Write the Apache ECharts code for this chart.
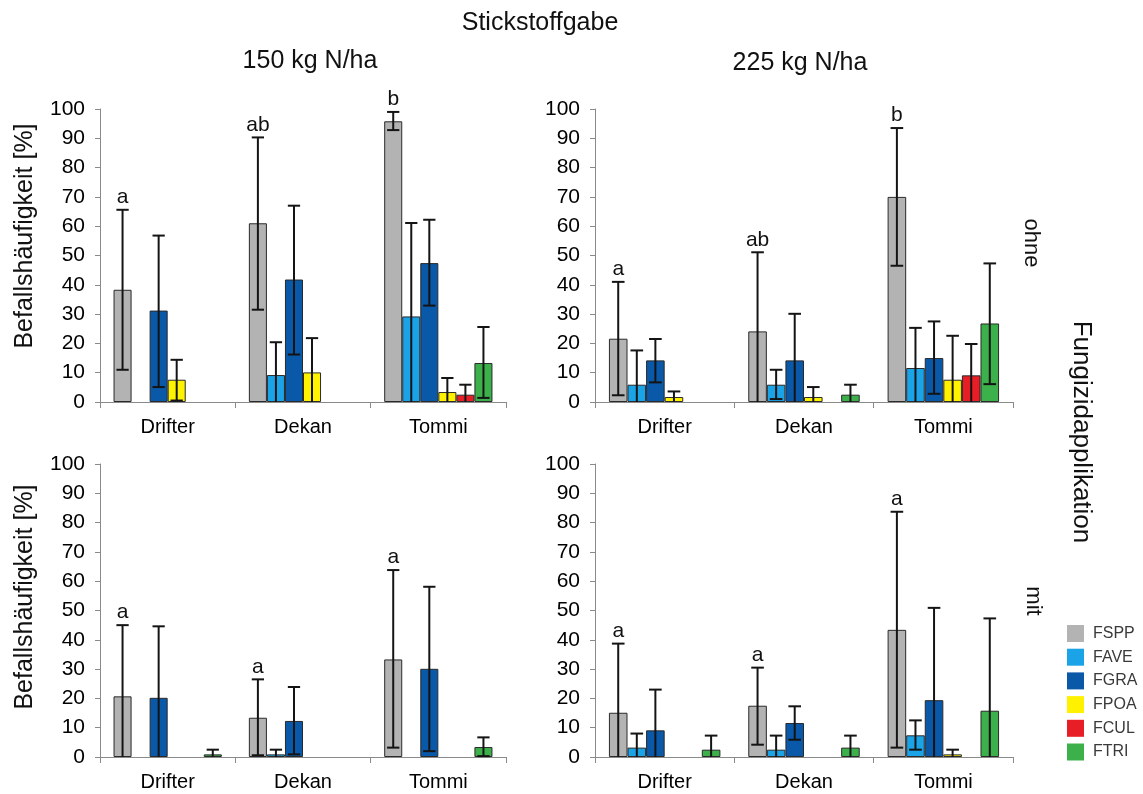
<!DOCTYPE html>
<html>
<head>
<meta charset="utf-8">
<script src="https://cdn.jsdelivr.net/npm/echarts@6/dist/echarts.min.js"></script>
<style>
html,body{margin:0;padding:0;background:#fff;}
#chart{width:1143px;height:794px;}
</style>
</head>
<body>
<div id="chart"></div>
<script>
// ---------- DATA ----------
const categories = ['Drifter', 'Dekan', 'Tommi'];
const fungi = ['FSPP', 'FAVE', 'FGRA', 'FPOA', 'FCUL', 'FTRI'];
const yTickMin = 0, yTickMax = 100, yTickStep = 10;

// 150 kg N/ha, ohne Fungizid  (rows = fungi, cols = categories)
const mean_150_ohne = [[38.3, 61.0, 95.8], [0, 9.2, 29.2], [31.2, 41.8, 47.4], [7.6, 10.1, 3.4], [0, 0, 2.5], [0, 0, 13.3]];
const low_150_ohne  = [[11.0, 31.5, 92.8], [0, 0, 0], [5.1, 16.2, 32.9], [0.5, 0, 0], [0, 0, 0], [0, 0, 1.4]];
const high_150_ohne = [[65.6, 90.3, 99.0], [0, 20.4, 61.1], [56.8, 67.0, 62.2], [14.4, 21.8, 8.2], [0, 0, 5.9], [0, 0, 25.6]];
const letters_150_ohne = ['a', 'ab', 'b'];

// 225 kg N/ha, ohne Fungizid
const mean_225_ohne = [[21.6, 24.1, 70.0], [5.9, 5.9, 11.6], [14.2, 14.2, 15.0], [1.7, 1.7, 7.6], [0, 0, 9.1], [0, 2.5, 26.8]];
const low_225_ohne  = [[2.3, 0, 46.5], [0, 1.0, 0], [6.7, 0, 2.8], [0, 0, 0], [0, 0, 0], [0, 0, 6.1]];
const high_225_ohne = [[41.0, 51.1, 93.5], [17.6, 11.0, 25.3], [21.5, 30.1, 27.5], [3.6, 5.1, 22.6], [0, 0, 19.8], [0, 5.9, 47.3]];
const letters_225_ohne = ['a', 'ab', 'b'];

// 150 kg N/ha, mit Fungizid
const mean_150_mit = [[20.7, 13.4, 33.3], [0, 0.9, 0], [20.2, 12.3, 30.1], [0, 0, 0], [0, 0, 0], [0.9, 0, 3.4]];
const low_150_mit  = [[0, 0.6, 3.2], [0, 0, 0], [0, 0.9, 2.0], [0, 0, 0], [0, 0, 0], [0, 0, 0.3]];
const high_150_mit = [[45.0, 26.5, 63.8], [0, 2.5, 0], [44.6, 23.9, 58.1], [0, 0, 0], [0, 0, 0], [2.5, 0, 6.7]];
const letters_150_mit = ['a', 'a', 'a'];

// 225 kg N/ha, mit Fungizid
const mean_225_mit = [[15.1, 17.5, 43.4], [3.2, 2.5, 7.4], [9.1, 11.6, 19.4], [0, 0, 0.9], [0, 0, 0], [2.5, 3.2, 15.8]];
const low_225_mit  = [[0, 4.2, 3.2], [0, 0, 2.5], [0, 5.9, 0], [0, 0, 0], [0, 0, 0], [0, 0, 0]];
const high_225_mit = [[38.7, 30.5, 83.7], [8.0, 7.3, 12.5], [23.0, 17.3, 50.9], [0, 0, 2.5], [0, 0, 0], [7.3, 7.3, 47.3]];
const letters_225_mit = ['a', 'a', 'a'];

// ---------- STYLE / LAYOUT ----------
const colors = ['#b3b3b3', '#1ba3e8', '#0a58a8', '#fff200', '#e81e26', '#3cb04a'];
const FONT = "'Liberation Sans', Arial, sans-serif";
const GAP = 0.20;
const panels = [
  { mean: mean_150_ohne, low: low_150_ohne, high: high_150_ohne, letters: letters_150_ohne, grid: { left: 100, top: 109, width: 406, height: 293 } },
  { mean: mean_225_ohne, low: low_225_ohne, high: high_225_ohne, letters: letters_225_ohne, grid: { left: 595, top: 109, width: 418, height: 293 } },
  { mean: mean_150_mit,  low: low_150_mit,  high: high_150_mit,  letters: letters_150_mit,  grid: { left: 100, top: 464, width: 406, height: 293 } },
  { mean: mean_225_mit,  low: low_225_mit,  high: high_225_mit,  letters: letters_225_mit,  grid: { left: 595, top: 464, width: 418, height: 293 } }
];

const grids = [], xAxes = [], yAxes = [], series = [];
panels.forEach((p, pi) => {
  grids.push(Object.assign({ containLabel: false }, p.grid));
  xAxes.push({
    type: 'category', gridIndex: pi, data: categories,
    axisLine: { lineStyle: { color: '#8a8a8a', width: 1 } },
    axisTick: { show: true, length: 6, lineStyle: { color: '#8a8a8a' } },
    axisLabel: { color: '#000', fontSize: 20, fontFamily: FONT, margin: 15 },
    splitLine: { show: false }
  });
  yAxes.push({
    type: 'value', gridIndex: pi, min: yTickMin, max: yTickMax, interval: yTickStep,
    axisLine: { show: true, lineStyle: { color: '#8a8a8a', width: 1 } },
    axisTick: { show: true, length: 5, lineStyle: { color: '#8a8a8a' } },
    axisLabel: { color: '#000', fontSize: 21, fontFamily: FONT, margin: 15 },
    splitLine: { show: false }
  });
  fungi.forEach((name, k) => {
    series.push({
      name: name, type: 'bar', xAxisIndex: pi, yAxisIndex: pi,
      data: p.mean[k].map(v => (v > 0 ? v : '-')),
      barGap: '0%', barCategoryGap: (GAP * 100) + '%',
      itemStyle: { color: colors[k], borderColor: '#2a2a2a', borderWidth: 1 },
      emphasis: { disabled: true },
      z: 2
    });
  });
  // error bars
  const errData = [];
  fungi.forEach((name, k) => {
    categories.forEach((c, ci) => {
      if (p.mean[k][ci] > 0 && p.high[k][ci] > 0) errData.push([ci, k, p.low[k][ci], p.high[k][ci]]);
    });
  });
  series.push({
    type: 'custom', xAxisIndex: pi, yAxisIndex: pi, z: 5, silent: true,
    encode: { x: 0, y: 3 },
    data: errData,
    renderItem: function (params, api) {
      const ci = api.value(0), k = api.value(1), lo = api.value(2), hi = api.value(3);
      const band = api.size([1, 0])[0];
      const barW = band * (1 - GAP) / 6;
      const cx = api.coord([ci, 0])[0] + (k - 2.5) * barW;
      const yLo = api.coord([ci, Math.max(lo, 0)])[1];
      const yHi = api.coord([ci, hi])[1];
      const half = barW * 0.34;
      const st = { stroke: '#141414', lineWidth: 2 };
      const ch = [
        { type: 'line', shape: { x1: cx, y1: yLo, x2: cx, y2: yHi }, style: st },
        { type: 'line', shape: { x1: cx - half, y1: yHi, x2: cx + half, y2: yHi }, style: st }
      ];
      if (lo > 0) ch.push({ type: 'line', shape: { x1: cx - half, y1: yLo, x2: cx + half, y2: yLo }, style: st });
      return { type: 'group', children: ch };
    }
  });
  // significance letters above FSPP
  const letData = categories.map((c, ci) => [ci, p.high[0][ci]]);
  const letters = p.letters;
  series.push({
    type: 'custom', xAxisIndex: pi, yAxisIndex: pi, z: 6, silent: true,
    encode: { x: 0, y: 1 },
    data: letData,
    renderItem: function (params, api) {
      const ci = api.value(0), hi = api.value(1);
      const band = api.size([1, 0])[0];
      const barW = band * (1 - GAP) / 6;
      const cx = api.coord([ci, 0])[0] + (0 - 2.5) * barW;
      const y = api.coord([ci, hi])[1];
      return {
        type: 'text', x: cx, y: y - 2,
        style: { text: letters[params.dataIndex], align: 'center', verticalAlign: 'bottom', textAlign: 'center', textVerticalAlign: 'bottom', fontSize: 21, fontFamily: FONT, fill: '#111' }
      };
    }
  });
});

function txt(text, x, y, size, rot) {
  return {
    type: 'text', x: x, y: y, rotation: rot || 0, silent: true,
    style: { text: text, align: 'center', verticalAlign: 'middle', textAlign: 'center', textVerticalAlign: 'middle', fontSize: size, fontFamily: FONT, fill: '#111' }
  };
}

const option = {
  animation: false,
  backgroundColor: '#fff',
  grid: grids, xAxis: xAxes, yAxis: yAxes, series: series,
  legend: {
    data: fungi, orient: 'vertical', left: 1062, top: 620, selectedMode: false, padding: 5,
    icon: 'rect', itemWidth: 17, itemHeight: 17, itemGap: 6.7,
    itemStyle: { borderWidth: 0 },
    textStyle: { fontSize: 16, fontFamily: FONT, color: '#3a3a3a', padding: [0, 0, 0, 4] }
  },
  graphic: [
    txt('Stickstoffgabe', 540, 23, 25),
    txt('150 kg N/ha', 310, 61, 25),
    txt('225 kg N/ha', 800, 63, 25),
    txt('Befallshäufigkeit [%]', 25, 236, 25, Math.PI / 2),
    txt('Befallshäufigkeit [%]', 25, 597, 25, Math.PI / 2),
    txt('ohne', 1031, 243, 22, -Math.PI / 2),
    txt('mit', 1033, 601, 22, -Math.PI / 2),
    txt('Fungizidapplikation', 1081, 432, 26, -Math.PI / 2)
  ]
};

const chart = echarts.init(document.getElementById('chart'), null, { renderer: 'canvas' });
chart.setOption(option);
</script>
</body>
</html>
